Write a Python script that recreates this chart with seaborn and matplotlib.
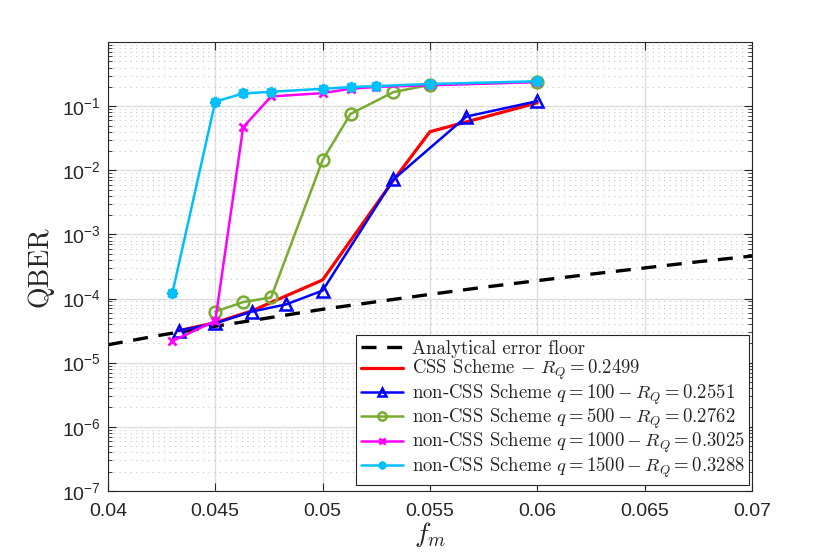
import numpy as np
import pandas as pd
import seaborn as sns
import matplotlib
matplotlib.use("Agg")
from matplotlib import pyplot as plt
from matplotlib import ticker

# values
floor_fm = [0.04, 0.0425, 0.045, 0.0475, 0.05, 0.0525, 0.055, 0.0575, 0.06, 0.0625, 0.065, 0.0675, 0.07]
floor_qber = [1.9e-5, 2.7e-5, 3.7e-5, 5.0e-5, 6.8e-5, 8.9e-5, 1.16e-4, 1.5e-4, 1.9e-4, 2.4e-4, 3.0e-4, 3.75e-4, 4.6e-4]

css_fm = [0.0433, 0.045, 0.0467, 0.0483, 0.05, 0.0533, 0.055, 0.06]
css_qber = [3.15e-5, 4.2e-5, 6.4e-5, 1.1e-4, 1.95e-4, 7.0e-3, 0.040, 0.113]

q100_fm = [0.0433, 0.045, 0.0467, 0.0483, 0.05, 0.0533, 0.0567, 0.06]
q100_qber = [3.15e-5, 4.1e-5, 6.25e-5, 8.1e-5, 1.33e-4, 7.2e-3, 0.069, 0.12]

q500_fm = [0.045, 0.0463, 0.0476, 0.05, 0.0513, 0.0533, 0.055, 0.06]
q500_qber = [6.25e-5, 8.8e-5, 1.04e-4, 0.0144, 0.0758, 0.166, 0.215, 0.24]

q1000_fm = [0.043, 0.045, 0.0463, 0.0476, 0.05, 0.0513, 0.0525, 0.055, 0.06]
q1000_qber = [2.17e-5, 4.47e-5, 0.047, 0.142, 0.16, 0.187, 0.2, 0.212, 0.238]

q1500_fm = [0.043, 0.045, 0.0463, 0.0476, 0.05, 0.0513, 0.0525, 0.055, 0.06]
q1500_qber = [1.21e-4, 0.118, 0.158, 0.168, 0.187, 0.199, 0.206, 0.222, 0.245]

labels = [
    "Analytical error floor",
    r"CSS Scheme $-\ R_Q = 0.2499$",
    r"non-CSS Scheme $q = 100 - R_Q = 0.2551$",
    r"non-CSS Scheme $q = 500 - R_Q = 0.2762$",
    r"non-CSS Scheme $q = 1000 - R_Q = 0.3025$",
    r"non-CSS Scheme $q = 1500 - R_Q = 0.3288$",
]

sns.set_style("ticks")
plt.rcParams["font.family"] = ["Liberation Sans", "DejaVu Sans"]
plt.rcParams["mathtext.fontset"] = "cm"
plt.rcParams["axes.unicode_minus"] = True

fig = plt.figure(figsize=(8.3, 5.54), dpi=100)
ax = fig.add_axes([0.130, 0.114, 0.776, 0.810])

sns.lineplot(x=floor_fm, y=floor_qber, ax=ax, color="black", lw=2.4,
             linestyle=(0, (4.5, 3.2)), label=labels[0], sort=False)
sns.lineplot(x=css_fm, y=css_qber, ax=ax, color="#FF0000", lw=2.3,
             label=labels[1], sort=False)
sns.lineplot(x=q100_fm, y=q100_qber, ax=ax, color="#0000FF", lw=1.8,
             marker="^", markersize=9, markerfacecolor="none",
             markeredgecolor="#0000FF", markeredgewidth=1.8,
             label=labels[2], sort=False)
sns.lineplot(x=q500_fm, y=q500_qber, ax=ax, color="#77AC30", lw=1.8,
             marker="o", markersize=8.5, markerfacecolor="none",
             markeredgecolor="#77AC30", markeredgewidth=1.8,
             label=labels[3], sort=False)
sns.lineplot(x=q1000_fm, y=q1000_qber, ax=ax, color="#FF00FF", lw=1.8,
             marker="x", markersize=5.5, markeredgecolor="#FF00FF",
             markeredgewidth=2, label=labels[4], sort=False)
sns.lineplot(x=q1500_fm, y=q1500_qber, ax=ax, color="#00BFFF", lw=1.8,
             marker=(8, 2, 0), markersize=8, markeredgecolor="#00BFFF",
             markeredgewidth=2.0, label=labels[5], sort=False)

ax.set_yscale("log")
ax.set_xlim(0.04, 0.07)
ax.set_ylim(1e-7, 1)
ax.set_xticks([0.04, 0.045, 0.05, 0.055, 0.06, 0.065, 0.07])
ax.set_xticklabels(["0.04", "0.045", "0.05", "0.055", "0.06", "0.065", "0.07"])
ax.set_yticks([1e-7, 1e-6, 1e-5, 1e-4, 1e-3, 1e-2, 1e-1])
ax.yaxis.set_major_formatter(ticker.LogFormatterSciNotation())
ax.yaxis.set_minor_locator(ticker.LogLocator(base=10, subs=np.arange(2, 10), numticks=20))
ax.yaxis.set_minor_formatter(ticker.NullFormatter())

ax.grid(which="major", axis="both", color="#DDDDDD", lw=1.0, ls="-")
ax.grid(which="minor", axis="y", color="#C4C4C4", lw=0.8, ls=(0, (1, 4)))
ax.set_axisbelow(True)

ax.tick_params(which="both", direction="in", top=True, right=True,
               labelsize=14, colors="#262626")
ax.tick_params(which="major", length=6, width=0.8)
ax.tick_params(which="minor", length=3, width=0.6)
ax.tick_params(axis="x", pad=9)
ax.tick_params(axis="y", pad=5)
for s in ax.spines.values():
    s.set_color("#262626")
    s.set_linewidth(0.8)

ax.set_ylabel("QBER", fontsize=20, family="cmr10", color="#262626", labelpad=6)
ax.set_xlabel(r"$f_m$", fontsize=20, color="#262626", labelpad=0)

leg = ax.legend(loc="lower right", bbox_to_anchor=(0.996, 0.014),
                prop={"family": "cmr10", "size": 13.5},
                fancybox=False, framealpha=1, edgecolor="#262626",
                handlelength=2.25, labelspacing=0.0, borderpad=0.25,
                handletextpad=0.45, borderaxespad=0.0, markerscale=0.7)
leg.get_frame().set_linewidth(0.8)

fig.savefig("out.png", dpi=100)
